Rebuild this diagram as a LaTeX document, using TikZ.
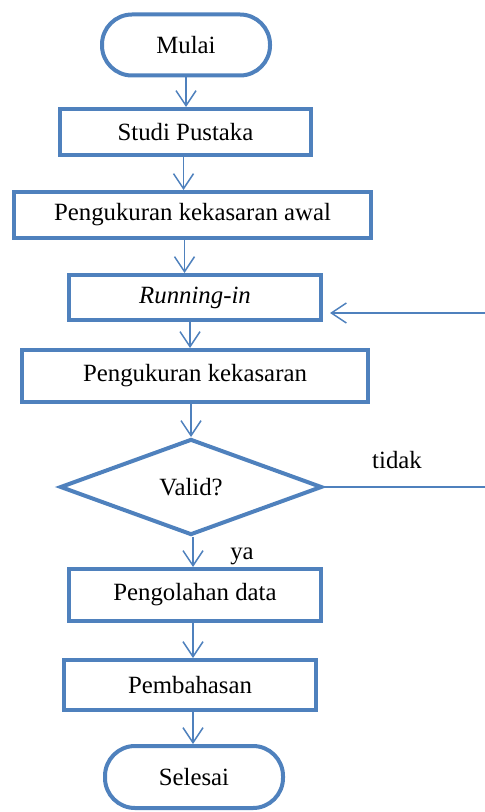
\documentclass[tikz,border=0pt]{standalone}
\usepackage{fontspec}
\setmainfont{Liberation Serif}
\usetikzlibrary{shapes.geometric,arrows.meta}

\definecolor{flowblue}{RGB}{79,129,189}

\tikzset{
	every node/.style={font=\fontsize{12.4}{14}\selectfont},
	box/.style={rectangle, draw=flowblue, line width=2pt},
	term/.style={box, rounded corners=15pt},
	decide/.style={diamond, draw=flowblue, line width=2pt, aspect=2.7},
	arr/.style={draw=flowblue, line width=0.75pt,
		-{Straight Barb[length=7.5pt, width=10pt]}}
}

\begin{document}
\begin{tikzpicture}[x=0.5pt, y=-0.5pt]

\useasboundingbox (0,0) rectangle (485,812);

% Start
\node[term, minimum width=84pt, minimum height=30.5pt] (Mulai) at (186,45) {Mulai};

% Steps
\node[box, minimum width=125.5pt, minimum height=23pt] (Studi) at (185.5,132) {Studi Pustaka};
\node[box, minimum width=178.5pt, minimum height=23pt] (Awal) at (192.5,215) {Pengukuran kekasaran awal};
\node[box, minimum width=126pt, minimum height=22.5pt] (Running) at (195,297.5) {\itshape Running-in};
\node[box, minimum width=173pt, minimum height=26pt] (Ukur) at (195,376) {Pengukuran kekasaran};

% Decision
\node[decide, minimum width=131pt, minimum height=48pt, inner sep=0pt] (Valid) at (191,487) {Valid?};

\node[box, minimum width=126pt, minimum height=26pt] (Olah) at (195,595) {Pengolahan data};
\node[box, minimum width=126pt, minimum height=25pt] (Bahas) at (190,685) {Pembahasan};

% End
\node[term, minimum width=89pt, minimum height=31pt] (Selesai) at (194,777) {Selesai};

% Labels
\node (tidak) at (397,460) {tidak};
\node (ya) at (242,556) {ya};

% Main flow
\draw[arr] (Mulai.south) -- (Mulai.south |- Studi.north);
\draw[arr] ([xshift=-1pt]Studi.south) -- ([xshift=-1pt]Studi.south |- Awal.north);
\draw[arr] ([xshift=-4pt]Awal.south) -- ([xshift=-4pt]Awal.south |- Running.north);
\draw[arr] ([xshift=-2.5pt]Running.south) -- ([xshift=-2.5pt]Running.south |- Ukur.north);
\draw[arr] ([xshift=-2pt]Ukur.south) -- ([xshift=-2pt]Ukur.south |- Valid.north);
\draw[arr] ([xshift=1pt]Valid.south) -- ([xshift=1pt]Valid.south |- Olah.north);
\draw[arr] ([xshift=-1pt]Olah.south) -- ([xshift=-1pt]Olah.south |- Bahas.north);
\draw[arr] ([xshift=1.5pt]Bahas.south) -- ([xshift=1.5pt]Bahas.south |- Selesai.north);

% Loop back
\coordinate (loopR) at (520,487);
\coordinate (loopT) at (520,313);
\draw[arr] (Valid.east) -- (loopR) -- (loopT)
	-- ([shift={(3.5pt,-7.75pt)}]Running.east);

\end{tikzpicture}
\end{document}
